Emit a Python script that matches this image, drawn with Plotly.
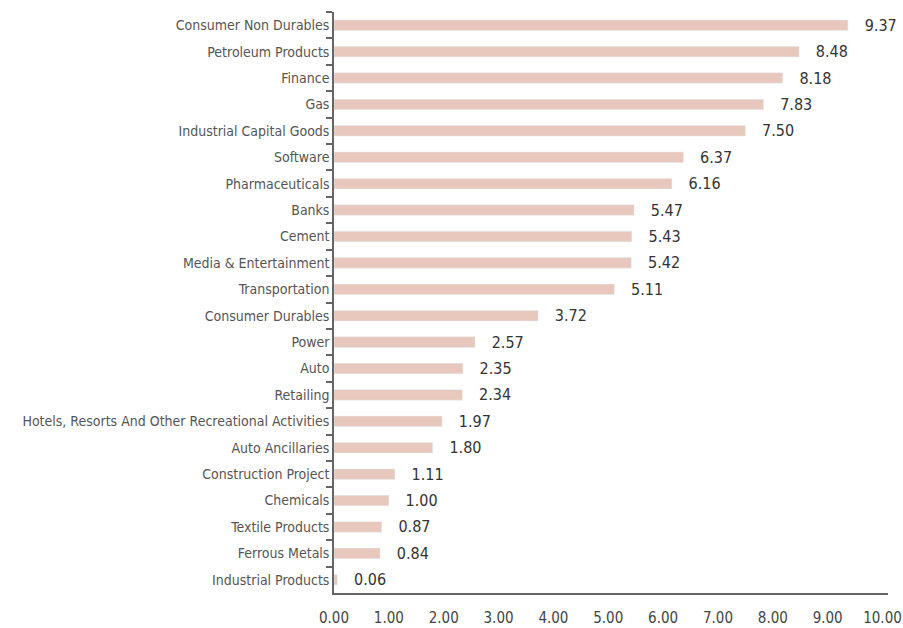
import plotly.graph_objects as go

# Sector allocation (%)
sectors = [
    "Consumer Non Durables", "Petroleum Products", "Finance", "Gas",
    "Industrial Capital Goods", "Software", "Pharmaceuticals", "Banks",
    "Cement", "Media & Entertainment", "Transportation", "Consumer Durables",
    "Power", "Auto", "Retailing",
    "Hotels, Resorts And Other Recreational Activities", "Auto Ancillaries",
    "Construction Project", "Chemicals", "Textile Products", "Ferrous Metals",
    "Industrial Products",
]
weights = [9.37, 8.48, 8.18, 7.83, 7.50, 6.37, 6.16, 5.47, 5.43, 5.42, 5.11,
           3.72, 2.57, 2.35, 2.34, 1.97, 1.80, 1.11, 1.00, 0.87, 0.84, 0.06]
x_ticks = [0, 1, 2, 3, 4, 5, 6, 7, 8, 9, 10]

font_name = "DejaVu Sans Condensed, sans-serif"
pad = "\u00a0" * 3

fig = go.Figure()
fig.add_trace(go.Bar(
    x=weights, y=sectors,
    orientation="h",
    marker_color="#e8c8bc",
    text=[pad + f"{v:.2f}" for v in weights],
    textposition="outside",
    constraintext="none",
    cliponaxis=False,
    textfont=dict(family=font_name, size=16, color="#333333"),
    hoverinfo="x+y",
))

fig.update_layout(
    width=903, height=628,
    margin=dict(l=334, r=15, t=12, b=35),
    plot_bgcolor="white", paper_bgcolor="white",
    bargap=0.6,
    showlegend=False,
    font=dict(family=font_name, size=14, color="#555555"),
)
fig.update_xaxes(
    range=[0, 10.1],
    tickvals=x_ticks,
    ticktext=[f"{v:.2f}" for v in x_ticks],
    showgrid=False, zeroline=False,
    showline=True, linecolor="#666666", linewidth=1.5,
    ticks="", tickfont=dict(size=15, color="#444444"),
    ticklabelstandoff=10,
    automargin=False,
)
fig.update_yaxes(
    autorange="reversed",
    showgrid=False,
    showline=True, linecolor="#666666", linewidth=1.5,
    ticks="outside", ticklen=6, tickcolor="#666666", tickwidth=1.5,
    tickson="boundaries",
    tickfont=dict(size=14, color="#555555"),
    automargin=False,
)

# drop the default 8px page margin so the figure fills the window exactly
fig.write_html("out.html", config={"displayModeBar": False},
               post_script="document.body.style.margin='0';")
